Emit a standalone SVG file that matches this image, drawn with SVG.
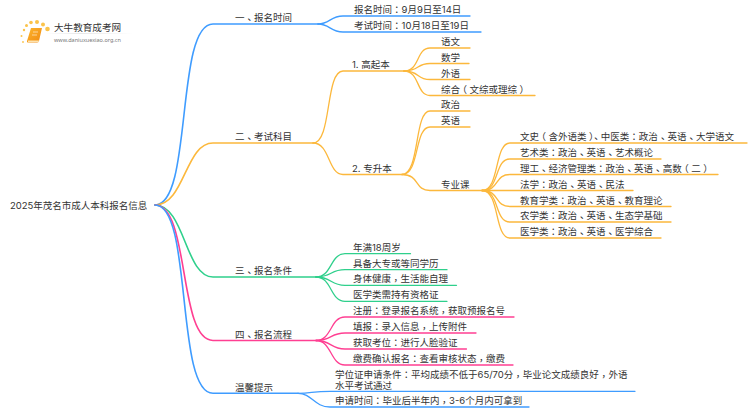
<svg xmlns="http://www.w3.org/2000/svg" width="750" height="410" viewBox="0 0 750 410">
<defs>
<style>
text{font-family:"Inter","Noto Sans CJK SC",sans-serif;font-size:9.5px;fill:#333}
.k{font-family:"Noto Sans CJK TC",sans-serif}
.l{font-family:"Noto Sans CJK TC",sans-serif;baseline-shift:-2px}
.c{fill:none;stroke-width:1.3;stroke-linecap:round}
.b{stroke:#3f9cff}.o{stroke:#fcb83c}.g{stroke:#2fd08c}.p{stroke:#ff3f92}
.m{stroke-width:1.6}
</style>
<linearGradient id="lg"><stop offset="0" stop-color="#ddd" stop-opacity="0"/><stop offset=".4" stop-color="#ddd"/><stop offset="1" stop-color="#ddd" stop-opacity="0"/></linearGradient>
<linearGradient id="bk" x1="0" y1="0" x2="1" y2="1"><stop offset="0" stop-color="#fdb52c"/><stop offset="1" stop-color="#f08a12"/></linearGradient>
</defs>
<rect width="750" height="410" fill="#fff"/>
<g id="logo">
<g fill="#fbc34a"><circle cx="24" cy="30" r="1.200"/><circle cx="26.500" cy="25.500" r="1.500"/><circle cx="31" cy="22.500" r="1.800"/><circle cx="37" cy="22" r="2"/><circle cx="43" cy="24.500" r="2"/><circle cx="47.500" cy="29" r="2.300"/><circle cx="21.500" cy="36" r="1"/><circle cx="23" cy="42" r=".9"/></g>
<path d="M31,28 H42 L39,41 Q38.500,42.500 37,42.500 H28 Q26.500,42.500 27,41 Z" fill="url(#bk)"/>
<path d="M28,40.500 H39 L38.700,42 H28 Z" fill="#fde3b0"/>
<path d="M33,32 H38 M32,35 H37" stroke="#fff" stroke-width=".8" fill="none" opacity=".7"/>
<rect x="45" y="33" width="88" height=".7" fill="url(#lg)"/>
<text x="54" y="30.500" style="font-family:'Noto Sans CJK SC',sans-serif;font-size:9.600px">大牛教育成考网</text>
<text x="54" y="41.500" style="font-family:'Noto Sans',sans-serif;font-size:5.500px;fill:#777">www.daniuxuexiao.org.cn</text>
</g>
<g id="connectors">
<path class="c m b" d="M155,205 C193,205 175,24 213,24 H318"/>
<path class="c m o" d="M155,205 C185,205 185,143 213,143 H313"/>
<path class="c m g" d="M155,205 C185,205 185,277 213,277 H316"/>
<path class="c m p" d="M155,205 C190,205 178,340.500 213,340.500 H316"/>
<path class="c m b" d="M155,205 C193,205 175,393.300 213,393.300 H298"/>
<path class="c b" d="M318,24 C330,24 330,16 343,16 H470"/>
<path class="c b" d="M318,24 C330,24 330,32 343,32 H481"/>
<path class="c o" d="M313,143 C332,143 325,71 343,71 H404"/>
<path class="c o" d="M313,143 C330,143 328,174.500 343,174.500 H402"/>
<path class="c o" d="M404,71 C420,71 416,48 430,48 H470"/>
<path class="c o" d="M404,71 C420,71 416,63.500 430,63.500 H469"/>
<path class="c o" d="M404,71 C420,71 416,79.500 430,79.500 H470"/>
<path class="c o" d="M404,71 C420,71 416,95.500 430,95.500 H535"/>
<path class="c o" d="M402,174.500 C420,174.500 414,111 430,111 H470"/>
<path class="c o" d="M402,174.500 C420,174.500 414,127 430,127 H470"/>
<path class="c o" d="M402,174.500 C420,174.500 414,190.500 430,190.500 H482"/>
<path class="c o" d="M482,190.500 C500,190.500 494,143 510,143 H747"/>
<path class="c o" d="M482,190.500 C500,190.500 494,159 510,159 H661"/>
<path class="c o" d="M482,190.500 C500,190.500 494,174.500 510,174.500 H718"/>
<path class="c o" d="M482,190.500 H633"/>
<path class="c o" d="M482,190.500 C500,190.500 494,206.500 510,206.500 H671"/>
<path class="c o" d="M482,190.500 C500,190.500 494,222 510,222 H671"/>
<path class="c o" d="M482,190.500 C500,190.500 494,238 510,238 H661"/>
<path class="c g" d="M316,277 C332,277 330,253.700 345,253.700 H410.500"/>
<path class="c g" d="M316,277 C332,277 330,269.700 345,269.700 H447"/>
<path class="c g" d="M316,277 C332,277 330,285.300 345,285.300 H456.500"/>
<path class="c g" d="M316,277 C332,277 330,301.300 345,301.300 H447"/>
<path class="c p" d="M316,340.500 C332,340.500 330,317 345,317 H514"/>
<path class="c p" d="M316,340.500 C332,340.500 330,333 345,333 H476"/>
<path class="c p" d="M316,340.500 C332,340.500 330,349 345,349 H466.500"/>
<path class="c p" d="M316,340.500 C332,340.500 330,365 345,365 H513"/>
<path class="c b" d="M298,393.300 C312,393.300 312,391.300 330,391.300 H635"/>
<path class="c b" d="M298,393.300 C312,393.300 314,407 330,407 H529"/>
</g>
<g id="root"><text x="10" y="208.500">2025年茂名市成人本科报名信息</text></g>
<g id="n1"><text x="235" y="21">一<tspan class="l">、</tspan>报名时间</text></g>
<g id="n1-1"><text x="354" y="13">报名时间<tspan class="k">：</tspan>9月9日至14日</text></g>
<g id="n1-2"><text x="354" y="29">考试时间<tspan class="k">：</tspan>10月18日至19日</text></g>
<g id="n2"><text x="235" y="140">二<tspan class="l">、</tspan>考试科目</text></g>
<g id="n2-1"><text x="352" y="68">1. 高起本</text></g>
<g id="n2-1-1"><text x="441" y="45">语文</text></g>
<g id="n2-1-2"><text x="441" y="61">数学</text></g>
<g id="n2-1-3"><text x="441" y="76.500">外语</text></g>
<g id="n2-1-4"><text x="441" y="92.500">综合<tspan dx="-2.500">（</tspan><tspan dx="2.500">文综或理综</tspan><tspan dx="2.500">）</tspan></text></g>
<g id="n2-2"><text x="352" y="171.500">2. 专升本</text></g>
<g id="n2-2-1"><text x="441" y="108">政治</text></g>
<g id="n2-2-2"><text x="441" y="124">英语</text></g>
<g id="n2-2-3"><text x="441" y="187.500">专业课</text></g>
<g id="n2-3-1"><text x="520" y="140">文史<tspan dx="-2.500">（</tspan><tspan dx="2.500">含外语类</tspan><tspan dx="2.500">）</tspan><tspan class="l" dx="-2.500">、</tspan>中医类<tspan class="k">：</tspan>政治<tspan class="l">、</tspan>英语<tspan class="l">、</tspan>大学语文</text></g>
<g id="n2-3-2"><text x="520" y="156">艺术类<tspan class="k">：</tspan>政治<tspan class="l">、</tspan>英语<tspan class="l">、</tspan>艺术概论</text></g>
<g id="n2-3-3"><text x="520" y="171.500">理工<tspan class="l">、</tspan>经济管理类<tspan class="k">：</tspan>政治<tspan class="l">、</tspan>英语<tspan class="l">、</tspan>高数<tspan dx="-2.500">（</tspan><tspan dx="2.500">二</tspan><tspan dx="2.500">）</tspan></text></g>
<g id="n2-3-4"><text x="520" y="187.500">法学<tspan class="k">：</tspan>政治<tspan class="l">、</tspan>英语<tspan class="l">、</tspan>民法</text></g>
<g id="n2-3-5"><text x="520" y="203.500">教育学类<tspan class="k">：</tspan>政治<tspan class="l">、</tspan>英语<tspan class="l">、</tspan>教育理论</text></g>
<g id="n2-3-6"><text x="520" y="219">农学类<tspan class="k">：</tspan>政治<tspan class="l">、</tspan>英语<tspan class="l">、</tspan>生态学基础</text></g>
<g id="n2-3-7"><text x="520" y="235">医学类<tspan class="k">：</tspan>政治<tspan class="l">、</tspan>英语<tspan class="l">、</tspan>医学综合</text></g>
<g id="n3"><text x="235" y="274">三<tspan class="l">、</tspan>报名条件</text></g>
<g id="n3-1"><text x="353" y="250.500">年满18周岁</text></g>
<g id="n3-2"><text x="353" y="266.500">具备大专或等同学历</text></g>
<g id="n3-3"><text x="353" y="282">身体健康<tspan class="l">，</tspan>生活能自理</text></g>
<g id="n3-4"><text x="353" y="298">医学类需持有资格证</text></g>
<g id="n4"><text x="235" y="337.500">四<tspan class="l">、</tspan>报名流程</text></g>
<g id="n4-1"><text x="353" y="314">注册<tspan class="k">：</tspan>登录报名系统<tspan class="l">，</tspan>获取预报名号</text></g>
<g id="n4-2"><text x="353" y="330">填报<tspan class="k">：</tspan>录入信息<tspan class="l">，</tspan>上传附件</text></g>
<g id="n4-3"><text x="353" y="346">获取考位<tspan class="k">：</tspan>进行人脸验证</text></g>
<g id="n4-4"><text x="353" y="362">缴费确认报名<tspan class="k">：</tspan>查看审核状态<tspan class="l">，</tspan>缴费</text></g>
<g id="n5"><text x="235" y="390.500">温馨提示</text></g>
<g id="n5-1"><text x="335" y="377.500">学位证申请条件<tspan class="k">：</tspan>平均成绩不低于65/70分<tspan class="l">，</tspan>毕业论文成绩良好<tspan class="l">，</tspan>外语</text><text x="335" y="388.500">水平考试通过</text></g>
<g id="n5-2"><text x="335" y="404">申请时间<tspan class="k">：</tspan>毕业后半年内<tspan class="l">，</tspan>3-6个月内可拿到</text></g>
</svg>
